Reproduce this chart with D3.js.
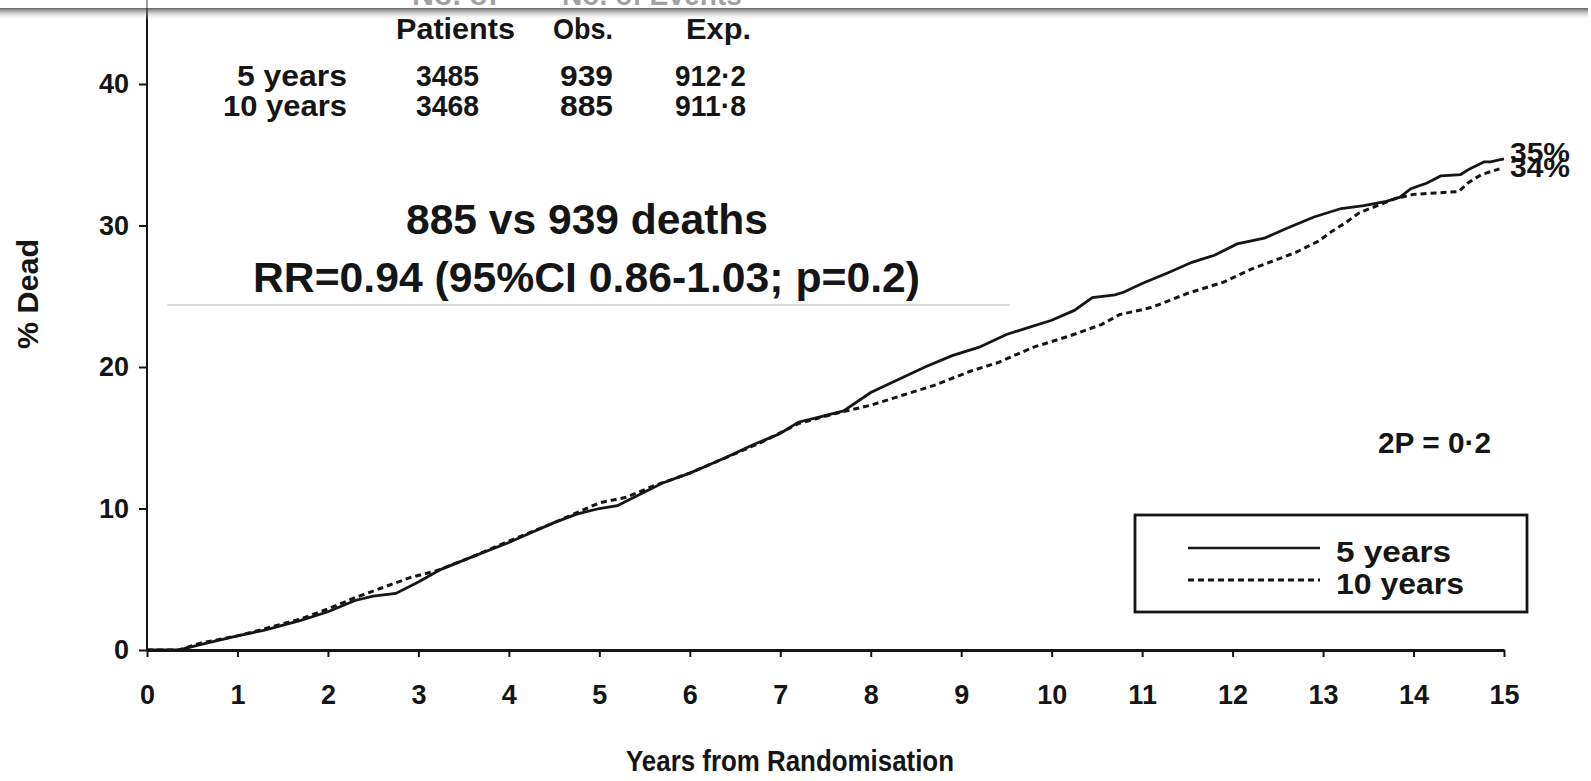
<!DOCTYPE html>
<html>
<head>
<meta charset="utf-8">
<script src="https://cdn.jsdelivr.net/npm/d3@7"></script>
<style>
  body { margin: 0; background: #fff; }
  svg { display: block; font-family: "Liberation Sans", Arial, sans-serif; }
  .axis text { font-size: 27px; font-weight: bold; fill: #151515; }
  .axis line { stroke: #151515; stroke-width: 2; }
</style>
</head>
<body>
<svg width="1591" height="781"></svg>
<script>
// cumulative % dead
var fiveYearT = [0, 0.35, 0.6, 1.0, 1.3, 1.7, 2.0, 2.3, 2.5, 2.75, 3.0, 3.25, 3.6, 4.0, 4.25, 4.5, 4.75, 5.0, 5.2, 5.45,
  5.7, 6.0, 6.4, 6.7, 7.0, 7.2, 7.45, 7.7, 8.0, 8.3, 8.6, 8.9, 9.2, 9.5, 9.75, 10.0, 10.25, 10.45, 10.7, 10.8,
  11.0, 11.3, 11.55, 11.8, 12.05, 12.35, 12.6, 12.9, 13.2, 13.45, 13.7, 13.85, 13.97, 14.15, 14.3, 14.52, 14.62, 14.78, 14.85, 15.0];
var fiveYearPct = [0, 0, 0.4, 1.0, 1.4, 2.1, 2.7, 3.5, 3.8, 4.0, 4.8, 5.7, 6.6, 7.6, 8.3, 9.0, 9.6, 10.0, 10.2, 11.0,
  11.8, 12.5, 13.6, 14.5, 15.3, 16.1, 16.5, 16.9, 18.2, 19.1, 20.0, 20.8, 21.4, 22.3, 22.8, 23.3, 24.0, 24.9, 25.1, 25.3,
  25.9, 26.7, 27.4, 27.9, 28.7, 29.1, 29.8, 30.6, 31.2, 31.4, 31.7, 32.0, 32.6, 33.0, 33.5, 33.6, 34.0, 34.5, 34.5, 34.7];

var tenYearT = [0, 0.35, 0.6, 1.0, 1.3, 1.7, 2.0, 2.3, 2.6, 2.9, 3.2, 3.6, 4.0, 4.5, 5.0, 5.3, 5.6, 6.0, 6.4, 6.8,
  7.2, 7.6, 8.0, 8.35, 8.7, 9.1, 9.4, 9.8, 10.2, 10.55, 10.75, 11.1, 11.5, 11.9, 12.2, 12.45, 12.7, 12.95, 13.1, 13.25,
  13.4, 13.6, 13.8, 14.0, 14.25, 14.5, 14.6, 14.75, 14.95];
var tenYearPct = [0, 0, 0.5, 1.0, 1.5, 2.2, 2.9, 3.7, 4.4, 5.1, 5.6, 6.6, 7.7, 9.0, 10.4, 10.8, 11.6, 12.5, 13.6, 14.7,
  16.0, 16.7, 17.3, 18.0, 18.7, 19.7, 20.3, 21.4, 22.2, 23.0, 23.7, 24.2, 25.2, 26.0, 26.9, 27.5, 28.1, 28.9, 29.6, 30.2,
  30.9, 31.4, 31.9, 32.2, 32.3, 32.4, 33.0, 33.6, 34.0];

var xTicks = d3.range(0, 16);
var yTicks = [0, 10, 20, 30, 40];

// table in the top left corner
var tableRows = ["5 years", "10 years"];
var patients = ["3485", "3468"];
var obsDeaths = ["939", "885"];
var expDeaths = ["912\u00b72", "911\u00b78"];
var endLabels = ["35%", "34%"];

var svg = d3.select("svg");
var ink = "#151515";

var x = d3.scaleLinear().domain([0, 15]).range([147, 1504]);
var y = d3.scaleLinear().domain([0, 40]).range([650, 84]);

function txt(s, xx, yy, size, len, anchor) {
  var t = svg.append("text")
    .attr("x", xx).attr("y", yy)
    .attr("font-size", size)
    .attr("font-weight", "bold")
    .attr("fill", ink)
    .attr("text-anchor", anchor || "start")
    .text(s);
  if (len) t.attr("textLength", len).attr("lengthAdjust", "spacingAndGlyphs");
  return t;
}

// header row, mostly cut off at the top
txt("No. of", 455, 5, 30, 86, "middle");
txt("No. of Events", 652, 5, 30, 180, "middle");
txt("Patients", 396, 39, 30, 119);
txt("Obs.", 553, 39, 30, 60);
txt("Exp.", 686, 39, 30, 65);

var rowY = [86, 116];
tableRows.forEach(function(r, i) {
  txt(r, 347, rowY[i], 30, i === 0 ? 110 : 124, "end");
  txt(patients[i], 416, rowY[i], 30, 63);
  txt(obsDeaths[i], 560, rowY[i], 30, 53);
  txt(expDeaths[i], 675, rowY[i], 30, 71);
});

txt("885 vs 939 deaths", 406, 234, 42, 362);
txt("RR=0.94 (95%CI 0.86-1.03; p=0.2)", 253, 292, 42, 667);
svg.append("line")
  .attr("x1", 167).attr("x2", 1010)
  .attr("y1", 305).attr("y2", 305)
  .attr("stroke", "#bdbdbd").attr("stroke-width", 1.2);

txt("2P = 0\u00b72", 1378, 453, 29, 113);

// axes
var gx = svg.append("g")
  .attr("class", "axis")
  .attr("transform", "translate(0," + y(0) + ")")
  .call(d3.axisBottom(x).tickValues(xTicks).tickSize(7).tickSizeOuter(0).tickFormat(d3.format("d")));
gx.select(".domain").attr("stroke", ink).attr("stroke-width", 2.8);
gx.selectAll("text").attr("y", 35);

var gy = svg.append("g")
  .attr("class", "axis")
  .attr("transform", "translate(" + x(0) + ",0)")
  .call(d3.axisLeft(y).tickValues(yTicks).tickSize(8).tickPadding(10));
gy.select(".domain").remove();
gy.append("line")
  .attr("y1", y(0)).attr("y2", 0)
  .attr("stroke", ink).attr("stroke-width", 2.4);

svg.append("text")
  .attr("transform", "translate(38," + 294 + ") rotate(-90)")
  .attr("text-anchor", "middle")
  .attr("font-size", 29).attr("font-weight", "bold").attr("fill", ink)
  .attr("textLength", 110).attr("lengthAdjust", "spacingAndGlyphs")
  .text("% Dead");

txt("Years from Randomisation", 790, 771, 30, 328, "middle");

// the two curves
var line = d3.line()
  .x(function(d) { return x(d[0]); })
  .y(function(d) { return y(d[1]); });

var five = fiveYearT.map(function(t, i) { return [t, fiveYearPct[i]]; });
var ten = tenYearT.map(function(t, i) { return [t, tenYearPct[i]]; });

svg.append("path").datum(ten)
  .attr("d", line).attr("fill", "none")
  .attr("stroke", ink).attr("stroke-width", 3)
  .attr("stroke-dasharray", "6,4");
svg.append("path").datum(five)
  .attr("d", line).attr("fill", "none")
  .attr("stroke", ink).attr("stroke-width", 2.8);

txt(endLabels[0], 1510, 162, 27, 60);
txt(endLabels[1], 1510, 177, 27, 60);

// legend
var legend = svg.append("g");
legend.append("rect")
  .attr("x", 1135).attr("y", 515)
  .attr("width", 392).attr("height", 97)
  .attr("fill", "#fff").attr("stroke", ink).attr("stroke-width", 2.8);
legend.append("line")
  .attr("x1", 1188).attr("x2", 1320).attr("y1", 548).attr("y2", 548)
  .attr("stroke", ink).attr("stroke-width", 2.6);
legend.append("line")
  .attr("x1", 1188).attr("x2", 1320).attr("y1", 580).attr("y2", 580)
  .attr("stroke", ink).attr("stroke-width", 2.8).attr("stroke-dasharray", "6,4");
txt("5 years", 1336, 562, 30, 115);
txt("10 years", 1336, 594, 30, 128);

// shadow bar over the top edge
var defs = svg.append("defs");
var grad = defs.append("linearGradient")
  .attr("id", "shade").attr("x1", 0).attr("x2", 0).attr("y1", 0).attr("y2", 1);
grad.append("stop").attr("offset", "0%").attr("stop-color", "#4a4a4a").attr("stop-opacity", 0.85);
grad.append("stop").attr("offset", "100%").attr("stop-color", "#fff").attr("stop-opacity", 0);
svg.append("rect")
  .attr("x", 0).attr("y", 0).attr("width", 1588).attr("height", 8)
  .attr("fill", "#fff").attr("fill-opacity", 0.6);
svg.append("rect")
  .attr("x", 0).attr("y", 8).attr("width", 1588).attr("height", 12)
  .attr("fill", "url(#shade)");
</script>
</body>
</html>
